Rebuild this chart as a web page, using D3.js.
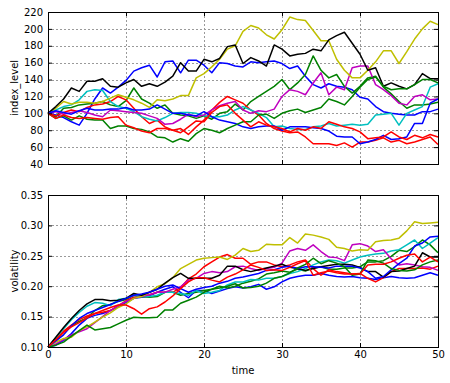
<!DOCTYPE html>
<html>
<head>
<meta charset="utf-8">
<script src="https://cdn.jsdelivr.net/npm/d3@7/dist/d3.min.js"></script>
<style>
  body { margin: 0; background: #fff; }
  svg { display: block; }
</style>
</head>
<body>
<div id="chart"></div>
<script>
// ---- data (t = 0..50) ----
const timeTicks = [0, 10, 20, 30, 40, 50];
const indexTicks = [40, 60, 80, 100, 120, 140, 160, 180, 200, 220];
const volTicks = [0.10, 0.15, 0.20, 0.25, 0.30, 0.35];
const seriesColors = ['#0000ff', '#008000', '#ff0000', '#00bfbf', '#bf00bf', '#bfbf00', '#000000', '#0000ff', '#008000', '#ff0000'];

const indexBlue0 = [100, 98, 95, 90, 86, 100, 117, 130, 124, 131, 139, 150, 154, 157, 143, 161, 162, 148, 163, 163, 157, 148, 160, 159, 156, 155, 161, 160, 161, 162, 159, 153, 156, 144, 134, 130, 135, 132, 131, 128, 119, 117, 108, 102, 100, 99, 98, 98, 102, 102, 105];
const indexGreen0 = [100, 96, 106, 107, 110, 111, 112, 114, 110, 108, 115, 130, 117, 112, 106, 110, 100, 98, 97, 94, 97, 93, 100, 102, 111, 104, 114, 120, 126, 132, 140, 128, 136, 146, 168, 151, 142, 146, 132, 124, 132, 142, 144, 131, 123, 114, 106, 110, 110, 111, 113];
const indexRed0 = [100, 97, 101, 104, 102, 107, 110, 111, 114, 120, 116, 106, 96, 88, 92, 84, 80, 82, 75, 84, 92, 104, 113, 120, 116, 112, 104, 98, 88, 82, 79, 77, 78, 72, 64, 64, 64, 62, 65, 60, 66, 66, 68, 71, 66, 68, 64, 66, 69, 72, 63];
const indexCyan = [100, 104, 108, 110, 116, 126, 128, 127, 114, 108, 106, 102, 96, 93, 91, 95, 100, 101, 101, 100, 97, 96, 96, 98, 104, 108, 104, 100, 95, 84, 85, 82, 81, 81, 84, 85, 88, 85, 86, 87, 86, 87, 98, 99, 100, 86, 100, 104, 108, 131, 135];
const indexMagenta = [100, 102, 99, 101, 103, 101, 98, 96, 104, 103, 102, 101, 100, 97, 94, 87, 88, 93, 99, 96, 98, 104, 109, 112, 114, 104, 100, 103, 102, 105, 120, 128, 126, 122, 136, 148, 122, 131, 128, 154, 156, 156, 134, 128, 121, 112, 110, 120, 122, 116, 117];
const indexYellow = [100, 106, 114, 111, 113, 113, 112, 114, 118, 122, 119, 116, 112, 107, 116, 115, 117, 121, 121, 142, 147, 155, 164, 176, 180, 197, 204, 201, 193, 188, 199, 214, 211, 210, 198, 186, 186, 164, 151, 142, 142, 151, 161, 174, 174, 159, 173, 188, 200, 209, 205];
const indexBlack = [100, 108, 117, 130, 126, 138, 138, 141, 132, 131, 136, 140, 132, 135, 132, 137, 144, 160, 150, 150, 164, 161, 165, 179, 181, 159, 166, 162, 156, 181, 176, 168, 170, 171, 176, 174, 187, 192, 196, 183, 170, 151, 154, 132, 136, 132, 129, 134, 147, 141, 141];
const indexBlue1 = [100, 103, 101, 99, 103, 106, 104, 104, 105, 105, 107, 104, 104, 105, 110, 105, 100, 100, 98, 97, 102, 96, 92, 90, 88, 84, 82, 84, 85, 85, 80, 84, 84, 84, 83, 82, 79, 73, 72, 72, 64, 66, 69, 74, 69, 70, 72, 88, 88, 112, 117];
const indexGreen1 = [100, 94, 97, 92, 97, 93, 92, 92, 82, 85, 85, 82, 81, 78, 72, 71, 66, 70, 67, 76, 82, 80, 77, 82, 86, 90, 90, 98, 99, 94, 100, 103, 105, 101, 104, 107, 117, 114, 110, 120, 131, 140, 143, 132, 128, 129, 129, 134, 140, 140, 136];
const indexRed1 = [100, 94, 98, 95, 94, 95, 94, 93, 95, 96, 86, 83, 79, 77, 82, 82, 80, 77, 84, 91, 90, 101, 108, 110, 100, 92, 84, 90, 86, 84, 82, 78, 82, 80, 84, 82, 90, 87, 84, 82, 78, 70, 71, 72, 78, 72, 69, 74, 71, 75, 72];

const volBlue0 = [0.100, 0.103, 0.111, 0.122, 0.136, 0.147, 0.152, 0.155, 0.160, 0.166, 0.173, 0.180, 0.182, 0.184, 0.190, 0.195, 0.199, 0.190, 0.181, 0.193, 0.193, 0.188, 0.192, 0.196, 0.199, 0.197, 0.199, 0.203, 0.195, 0.199, 0.207, 0.213, 0.216, 0.218, 0.218, 0.221, 0.218, 0.216, 0.215, 0.216, 0.214, 0.213, 0.211, 0.214, 0.216, 0.214, 0.213, 0.214, 0.218, 0.222, 0.218];
const volGreen0 = [0.100, 0.110, 0.125, 0.135, 0.142, 0.148, 0.160, 0.168, 0.170, 0.175, 0.178, 0.185, 0.183, 0.182, 0.183, 0.190, 0.190, 0.185, 0.188, 0.190, 0.193, 0.195, 0.200, 0.197, 0.200, 0.205, 0.208, 0.212, 0.220, 0.222, 0.225, 0.223, 0.228, 0.225, 0.230, 0.232, 0.228, 0.228, 0.230, 0.230, 0.232, 0.240, 0.240, 0.242, 0.249, 0.259, 0.257, 0.265, 0.276, 0.268, 0.255];
const volRed0 = [0.100, 0.113, 0.126, 0.136, 0.145, 0.151, 0.155, 0.157, 0.160, 0.168, 0.176, 0.182, 0.184, 0.186, 0.190, 0.190, 0.190, 0.198, 0.212, 0.220, 0.232, 0.240, 0.248, 0.252, 0.246, 0.246, 0.236, 0.240, 0.240, 0.235, 0.232, 0.235, 0.240, 0.243, 0.229, 0.218, 0.227, 0.224, 0.222, 0.220, 0.221, 0.213, 0.207, 0.214, 0.224, 0.229, 0.229, 0.229, 0.230, 0.228, 0.233];
const volCyan = [0.100, 0.115, 0.130, 0.145, 0.157, 0.167, 0.173, 0.172, 0.168, 0.178, 0.180, 0.185, 0.183, 0.183, 0.185, 0.190, 0.190, 0.188, 0.185, 0.193, 0.188, 0.190, 0.193, 0.202, 0.207, 0.207, 0.211, 0.210, 0.213, 0.213, 0.216, 0.221, 0.224, 0.229, 0.235, 0.240, 0.243, 0.242, 0.238, 0.243, 0.248, 0.251, 0.253, 0.254, 0.258, 0.260, 0.268, 0.276, 0.262, 0.271, 0.280];
const volMagenta = [0.100, 0.105, 0.112, 0.120, 0.125, 0.130, 0.140, 0.150, 0.160, 0.168, 0.175, 0.180, 0.183, 0.186, 0.190, 0.190, 0.195, 0.199, 0.210, 0.213, 0.221, 0.224, 0.222, 0.224, 0.232, 0.233, 0.229, 0.226, 0.229, 0.231, 0.238, 0.258, 0.262, 0.259, 0.268, 0.257, 0.248, 0.247, 0.242, 0.268, 0.270, 0.266, 0.257, 0.260, 0.245, 0.235, 0.237, 0.235, 0.232, 0.231, 0.226];
const volYellow = [0.100, 0.108, 0.114, 0.116, 0.127, 0.133, 0.141, 0.149, 0.156, 0.165, 0.171, 0.180, 0.183, 0.190, 0.199, 0.204, 0.214, 0.229, 0.236, 0.243, 0.246, 0.247, 0.248, 0.244, 0.251, 0.262, 0.257, 0.259, 0.269, 0.268, 0.268, 0.280, 0.271, 0.286, 0.284, 0.281, 0.277, 0.264, 0.262, 0.258, 0.260, 0.259, 0.273, 0.275, 0.276, 0.279, 0.291, 0.306, 0.303, 0.304, 0.305];
const volBlack = [0.100, 0.116, 0.132, 0.147, 0.160, 0.171, 0.178, 0.178, 0.176, 0.177, 0.180, 0.188, 0.185, 0.190, 0.195, 0.205, 0.214, 0.221, 0.213, 0.213, 0.213, 0.213, 0.218, 0.233, 0.233, 0.227, 0.224, 0.227, 0.230, 0.233, 0.236, 0.231, 0.229, 0.226, 0.229, 0.232, 0.234, 0.236, 0.236, 0.235, 0.231, 0.224, 0.224, 0.215, 0.224, 0.225, 0.229, 0.233, 0.255, 0.248, 0.248];
const volBlue1 = [0.100, 0.110, 0.120, 0.135, 0.147, 0.155, 0.160, 0.165, 0.170, 0.175, 0.180, 0.185, 0.187, 0.190, 0.195, 0.200, 0.202, 0.196, 0.190, 0.195, 0.198, 0.200, 0.205, 0.208, 0.213, 0.215, 0.218, 0.221, 0.226, 0.227, 0.231, 0.233, 0.229, 0.232, 0.232, 0.231, 0.230, 0.233, 0.233, 0.233, 0.230, 0.224, 0.213, 0.216, 0.227, 0.237, 0.246, 0.266, 0.271, 0.281, 0.282];
const volGreen1 = [0.100, 0.103, 0.108, 0.118, 0.127, 0.136, 0.128, 0.130, 0.132, 0.138, 0.144, 0.149, 0.148, 0.148, 0.149, 0.161, 0.161, 0.172, 0.177, 0.182, 0.190, 0.195, 0.197, 0.200, 0.204, 0.197, 0.198, 0.200, 0.205, 0.213, 0.216, 0.222, 0.230, 0.236, 0.246, 0.237, 0.242, 0.238, 0.232, 0.218, 0.220, 0.243, 0.242, 0.238, 0.229, 0.226, 0.225, 0.227, 0.235, 0.240, 0.243];
const volRed1 = [0.100, 0.112, 0.124, 0.133, 0.140, 0.148, 0.155, 0.160, 0.165, 0.169, 0.169, 0.163, 0.154, 0.163, 0.166, 0.174, 0.184, 0.196, 0.207, 0.214, 0.214, 0.210, 0.207, 0.215, 0.220, 0.227, 0.235, 0.231, 0.226, 0.227, 0.226, 0.231, 0.237, 0.242, 0.218, 0.222, 0.225, 0.222, 0.220, 0.220, 0.220, 0.235, 0.236, 0.236, 0.240, 0.246, 0.251, 0.253, 0.240, 0.248, 0.240];

const indexSeries = [indexBlue0, indexGreen0, indexRed0, indexCyan, indexMagenta, indexYellow, indexBlack, indexBlue1, indexGreen1, indexRed1];
const volSeries = [volBlue0, volGreen0, volRed0, volCyan, volMagenta, volYellow, volBlack, volBlue1, volGreen1, volRed1];

// ---- layout ----
const CONFIG = {
    WIDTH: 450,
    HEIGHT: 383,
    LEFT: 48,
    RIGHT: 438,
    FONT: '"DejaVu Sans", sans-serif',
    FONT_SIZE: 10,
    TICK: 4,
    LINE_WIDTH: 1.5
};

const panels = [
    { label: 'index_level', top: 12, bottom: 164, domain: [40, 220], ticks: indexTicks, fmt: d3.format('d'), series: indexSeries, xLabels: false },
    { label: 'volatility', top: 195, bottom: 347, domain: [0.10, 0.35], ticks: volTicks, fmt: d3.format('.2f'), series: volSeries, xLabels: true }
];

const svg = d3.select('#chart').append('svg')
    .attr('width', CONFIG.WIDTH)
    .attr('height', CONFIG.HEIGHT)
    .attr('xmlns', 'http://www.w3.org/2000/svg')
    .style('font-family', CONFIG.FONT)
    .style('font-size', CONFIG.FONT_SIZE + 'px');

const x = d3.scaleLinear().domain([0, 50]).range([CONFIG.LEFT, CONFIG.RIGHT]);

panels.forEach(function (p) {
    const y = d3.scaleLinear().domain(p.domain).range([p.bottom, p.top]);
    const g = svg.append('g');

    // dotted grid
    const grid = g.append('g').attr('stroke', '#9a9a9a').attr('stroke-width', 1).attr('stroke-dasharray', '2,2');
    grid.selectAll('.gx').data(timeTicks.slice(1, -1)).enter().append('line')
        .attr('x1', d => Math.round(x(d)) + 0.5).attr('x2', d => Math.round(x(d)) + 0.5)
        .attr('y1', p.top).attr('y2', p.bottom);
    grid.selectAll('.gy').data(p.ticks.slice(1, -1)).enter().append('line')
        .attr('x1', CONFIG.LEFT).attr('x2', CONFIG.RIGHT)
        .attr('y1', d => Math.round(y(d)) + 0.5).attr('y2', d => Math.round(y(d)) + 0.5);

    // lines
    const line = d3.line().x((d, i) => x(i)).y(d => y(d));
    g.append('g').selectAll('path')
        .data(p.series)
        .enter().append('path')
        .attr('d', line)
        .attr('fill', 'none')
        .attr('stroke', (d, i) => seriesColors[i])
        .attr('stroke-width', CONFIG.LINE_WIDTH)
        .attr('stroke-linejoin', 'round');

    // axes, ticks pointing inwards on all four sides
    const left = g.append('g').attr('transform', 'translate(' + CONFIG.LEFT + ',0)')
        .call(d3.axisLeft(y).tickValues(p.ticks).tickFormat(p.fmt).tickSize(-CONFIG.TICK).tickPadding(5));
    const right = g.append('g').attr('transform', 'translate(' + CONFIG.RIGHT + ',0)')
        .call(d3.axisRight(y).tickValues(p.ticks).tickFormat('').tickSize(-CONFIG.TICK));
    const top = g.append('g').attr('transform', 'translate(0,' + p.top + ')')
        .call(d3.axisTop(x).tickValues(timeTicks).tickFormat('').tickSize(-CONFIG.TICK));
    const bottom = g.append('g').attr('transform', 'translate(0,' + p.bottom + ')')
        .call(d3.axisBottom(x).tickValues(timeTicks).tickFormat(p.xLabels ? d3.format('d') : '').tickSize(-CONFIG.TICK).tickPadding(3.5));

    [left, right, top, bottom].forEach(function (a) {
        a.select('.domain').remove();
        a.selectAll('text').attr('fill', '#000').style('font-family', CONFIG.FONT).style('font-size', CONFIG.FONT_SIZE + 'px');
        a.selectAll('line').attr('stroke', '#000');
    });

    g.append('rect')
        .attr('x', CONFIG.LEFT + 0.5).attr('y', p.top + 0.5)
        .attr('width', CONFIG.RIGHT - CONFIG.LEFT).attr('height', p.bottom - p.top)
        .attr('fill', 'none').attr('stroke', '#000').attr('stroke-width', 1);

    g.append('text')
        .attr('transform', 'translate(18,' + ((p.top + p.bottom) / 2) + ')rotate(-90)')
        .attr('text-anchor', 'middle')
        .text(p.label);
});

svg.append('text')
    .attr('x', (CONFIG.LEFT + CONFIG.RIGHT) / 2)
    .attr('y', 374)
    .attr('text-anchor', 'middle')
    .text('time');
</script>
</body>
</html>
